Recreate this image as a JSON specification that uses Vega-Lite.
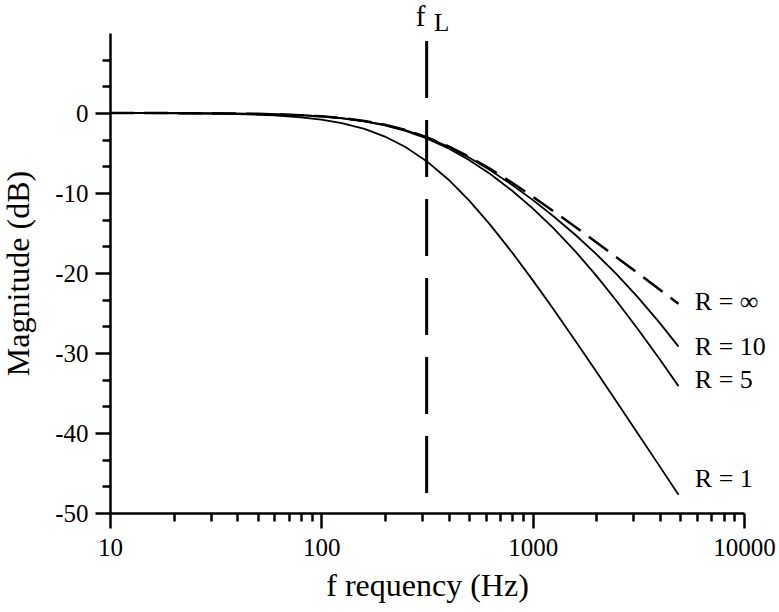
{
  "$schema": "https://vega.github.io/schema/vega-lite/v6.json",
  "width": 634,
  "height": 480,
  "autosize": {"type": "none"},
  "padding": {"left": 110, "top": 33, "right": 35, "bottom": 99},
  "background": "white",
  "config": {
    "view": {"stroke": null},
    "font": "Liberation Serif",
    "axis": {
      "grid": false,
      "domainColor": "black",
      "tickColor": "black",
      "labelColor": "black",
      "titleColor": "black",
      "labelFont": "Liberation Serif",
      "titleFont": "Liberation Serif",
      "titleFontWeight": "normal",
      "domainWidth": 2.5,
      "tickWidth": 2.5
    }
  },
  "datasets": {
    "curves": [
      {"f": 10, "R": "R = ∞", "db": -0.004}, {"f": 15, "R": "R = ∞", "db": -0.010}, {"f": 20, "R": "R = ∞", "db": -0.017}, {"f": 30, "R": "R = ∞", "db": -0.039}, {"f": 40, "R": "R = ∞", "db": -0.069}, {"f": 50, "R": "R = ∞", "db": -0.108}, {"f": 60, "R": "R = ∞", "db": -0.155}, {"f": 80, "R": "R = ∞", "db": -0.271}, {"f": 100, "R": "R = ∞", "db": -0.417}, {"f": 125, "R": "R = ∞", "db": -0.635}, {"f": 160, "R": "R = ∞", "db": -0.997}, {"f": 200, "R": "R = ∞", "db": -1.471}, {"f": 250, "R": "R = ∞", "db": -2.122}, {"f": 315, "R": "R = ∞", "db": -3.010}, {"f": 400, "R": "R = ∞", "db": -4.171}, {"f": 500, "R": "R = ∞", "db": -5.465}, {"f": 630, "R": "R = ∞", "db": -6.990}, {"f": 800, "R": "R = ∞", "db": -8.722}, {"f": 1000, "R": "R = ∞", "db": -10.445}, {"f": 1250, "R": "R = ∞", "db": -12.239}, {"f": 1600, "R": "R = ∞", "db": -14.281}, {"f": 2000, "R": "R = ∞", "db": -16.161}, {"f": 2500, "R": "R = ∞", "db": -18.061}, {"f": 3150, "R": "R = ∞", "db": -20.043}, {"f": 4000, "R": "R = ∞", "db": -22.102}, {"f": 4900, "R": "R = ∞", "db": -23.856},
      {"f": 10, "R": "R = 10", "db": -0.004}, {"f": 15, "R": "R = 10", "db": -0.010}, {"f": 20, "R": "R = 10", "db": -0.018}, {"f": 30, "R": "R = 10", "db": -0.040}, {"f": 40, "R": "R = 10", "db": -0.070}, {"f": 50, "R": "R = 10", "db": -0.109}, {"f": 60, "R": "R = 10", "db": -0.156}, {"f": 80, "R": "R = 10", "db": -0.274}, {"f": 100, "R": "R = 10", "db": -0.421}, {"f": 125, "R": "R = 10", "db": -0.642}, {"f": 160, "R": "R = 10", "db": -1.008}, {"f": 200, "R": "R = 10", "db": -1.489}, {"f": 250, "R": "R = 10", "db": -2.149}, {"f": 315, "R": "R = 10", "db": -3.054}, {"f": 400, "R": "R = 10", "db": -4.240}, {"f": 500, "R": "R = 10", "db": -5.573}, {"f": 630, "R": "R = 10", "db": -7.160}, {"f": 800, "R": "R = 10", "db": -8.993}, {"f": 1000, "R": "R = 10", "db": -10.862}, {"f": 1250, "R": "R = 10", "db": -12.875}, {"f": 1600, "R": "R = 10", "db": -15.278}, {"f": 2000, "R": "R = 10", "db": -17.632}, {"f": 2500, "R": "R = 10", "db": -20.183}, {"f": 3150, "R": "R = 10", "db": -23.054}, {"f": 4000, "R": "R = 10", "db": -26.272}, {"f": 4900, "R": "R = 10", "db": -29.196},
      {"f": 10, "R": "R = 5", "db": -0.005}, {"f": 15, "R": "R = 5", "db": -0.010}, {"f": 20, "R": "R = 5", "db": -0.018}, {"f": 30, "R": "R = 5", "db": -0.041}, {"f": 40, "R": "R = 5", "db": -0.072}, {"f": 50, "R": "R = 5", "db": -0.112}, {"f": 60, "R": "R = 5", "db": -0.161}, {"f": 80, "R": "R = 5", "db": -0.283}, {"f": 100, "R": "R = 5", "db": -0.434}, {"f": 125, "R": "R = 5", "db": -0.662}, {"f": 160, "R": "R = 5", "db": -1.041}, {"f": 200, "R": "R = 5", "db": -1.540}, {"f": 250, "R": "R = 5", "db": -2.230}, {"f": 315, "R": "R = 5", "db": -3.181}, {"f": 400, "R": "R = 5", "db": -4.442}, {"f": 500, "R": "R = 5", "db": -5.882}, {"f": 630, "R": "R = 5", "db": -7.634}, {"f": 800, "R": "R = 5", "db": -9.718}, {"f": 1000, "R": "R = 5", "db": -11.916}, {"f": 1250, "R": "R = 5", "db": -14.361}, {"f": 1600, "R": "R = 5", "db": -17.361}, {"f": 2000, "R": "R = 5", "db": -20.331}, {"f": 2500, "R": "R = 5", "db": -23.526}, {"f": 3150, "R": "R = 5", "db": -27.033}, {"f": 4000, "R": "R = 5", "db": -30.823}, {"f": 4900, "R": "R = 5", "db": -34.141},
      {"f": 10, "R": "R = 1", "db": -0.009}, {"f": 15, "R": "R = 1", "db": -0.020}, {"f": 20, "R": "R = 1", "db": -0.035}, {"f": 30, "R": "R = 1", "db": -0.078}, {"f": 40, "R": "R = 1", "db": -0.139}, {"f": 50, "R": "R = 1", "db": -0.216}, {"f": 60, "R": "R = 1", "db": -0.309}, {"f": 80, "R": "R = 1", "db": -0.543}, {"f": 100, "R": "R = 1", "db": -0.834}, {"f": 125, "R": "R = 1", "db": -1.270}, {"f": 160, "R": "R = 1", "db": -1.994}, {"f": 200, "R": "R = 1", "db": -2.942}, {"f": 250, "R": "R = 1", "db": -4.243}, {"f": 315, "R": "R = 1", "db": -6.021}, {"f": 400, "R": "R = 1", "db": -8.341}, {"f": 500, "R": "R = 1", "db": -10.930}, {"f": 630, "R": "R = 1", "db": -13.979}, {"f": 800, "R": "R = 1", "db": -17.443}, {"f": 1000, "R": "R = 1", "db": -20.889}, {"f": 1250, "R": "R = 1", "db": -24.479}, {"f": 1600, "R": "R = 1", "db": -28.563}, {"f": 2000, "R": "R = 1", "db": -32.321}, {"f": 2500, "R": "R = 1", "db": -36.122}, {"f": 3150, "R": "R = 1", "db": -40.086}, {"f": 4000, "R": "R = 1", "db": -44.203}, {"f": 4900, "R": "R = 1", "db": -47.711}
    ],
    "labels": [
      {"f": 5850, "db": -23.6, "label": "R = ∞"},
      {"f": 5850, "db": -29.25, "label": "R = 10"},
      {"f": 5850, "db": -33.4, "label": "R = 5"},
      {"f": 5850, "db": -45.75, "label": "R = 1"}
    ],
    "cutoff": [
      {"f": 315, "top": 9, "bottom": -48.5}
    ]
  },
  "layer": [
    {
      "data": {"name": "curves"},
      "transform": [{"filter": "datum.R != 'R = ∞'"}],
      "mark": {"type": "line", "color": "black", "strokeWidth": 1.8},
      "encoding": {
        "x": {
          "field": "f", "type": "quantitative",
          "scale": {"type": "log", "domain": [10, 10000], "nice": false},
          "axis": {
            "values": [10, 100, 1000, 10000], "format": "d",
            "tickSize": 15, "labelFontSize": 25, "labelPadding": 7,
            "title": "f requency (Hz)", "titleFontSize": 32, "titlePadding": 10,
            "labelFlush": false, "labelOverlap": false
          }
        },
        "y": {
          "field": "db", "type": "quantitative",
          "scale": {"domain": [-50, 10], "nice": false, "zero": false},
          "axis": {
            "values": [0, -10, -20, -30, -40, -50],
            "labelExpr": "'' + datum.value",
            "tickSize": 15, "labelFontSize": 25, "labelPadding": 7,
            "title": "Magnitude (dB)", "titleFontSize": 32, "titlePadding": 19,
            "labelFlush": false, "labelOverlap": false
          }
        },
        "detail": {"field": "R"}
      }
    },
    {
      "data": {"name": "curves"},
      "transform": [{"filter": "datum.R == 'R = ∞'"}],
      "mark": {"type": "line", "color": "black", "strokeWidth": 2.5, "strokeDash": [24, 10]},
      "encoding": {
        "x": {
          "field": "f", "type": "quantitative",
          "scale": {"type": "log", "domain": [10, 10000], "nice": false},
          "axis": {
            "orient": "bottom",
            "values": [20, 30, 40, 50, 60, 70, 80, 90, 200, 300, 400, 500, 600, 700, 800, 900, 2000, 3000, 4000, 5000, 6000, 7000, 8000, 9000],
            "tickSize": 8, "labels": false, "domain": false, "title": null
          }
        },
        "y": {
          "field": "db", "type": "quantitative",
          "scale": {"domain": [-50, 10], "nice": false, "zero": false},
          "axis": {
            "orient": "left",
            "values": [6.667, 3.333, -3.333, -6.667, -13.333, -16.667, -23.333, -26.667, -33.333, -36.667, -43.333, -46.667],
            "tickSize": 8, "labels": false, "domain": false, "title": null
          }
        }
      }
    },
    {
      "data": {"name": "cutoff"},
      "mark": {"type": "rule", "color": "black", "strokeWidth": 3, "strokeDash": [57, 22]},
      "encoding": {
        "x": {"field": "f", "type": "quantitative", "scale": {"type": "log", "domain": [10, 10000], "nice": false}, "axis": null},
        "y": {"field": "top", "type": "quantitative", "scale": {"domain": [-50, 10], "nice": false, "zero": false}, "axis": null},
        "y2": {"field": "bottom"}
      }
    },
    {
      "data": {"name": "cutoff"},
      "mark": {"type": "text", "text": "f", "fontSize": 29, "font": "Liberation Serif", "align": "center", "baseline": "alphabetic", "dx": -6, "color": "black"},
      "encoding": {
        "x": {"field": "f", "type": "quantitative", "scale": {"type": "log", "domain": [10, 10000], "nice": false}, "axis": null},
        "y": {"datum": 10.9, "type": "quantitative", "scale": {"domain": [-50, 10], "nice": false, "zero": false}, "axis": null}
      }
    },
    {
      "data": {"name": "cutoff"},
      "mark": {"type": "text", "text": "L", "fontSize": 25, "font": "Liberation Serif", "align": "center", "baseline": "alphabetic", "dx": 15, "color": "black"},
      "encoding": {
        "x": {"field": "f", "type": "quantitative", "scale": {"type": "log", "domain": [10, 10000], "nice": false}, "axis": null},
        "y": {"datum": 10.3, "type": "quantitative", "scale": {"domain": [-50, 10], "nice": false, "zero": false}, "axis": null}
      }
    },
    {
      "data": {"name": "labels"},
      "mark": {"type": "text", "fontSize": 26, "font": "Liberation Serif", "align": "left", "baseline": "middle", "color": "black"},
      "encoding": {
        "x": {"field": "f", "type": "quantitative", "scale": {"type": "log", "domain": [10, 10000], "nice": false}, "axis": null},
        "y": {"field": "db", "type": "quantitative", "scale": {"domain": [-50, 10], "nice": false, "zero": false}, "axis": null},
        "text": {"field": "label"}
      }
    }
  ],
  "resolve": {"axis": {"x": "independent", "y": "independent"}}
}
